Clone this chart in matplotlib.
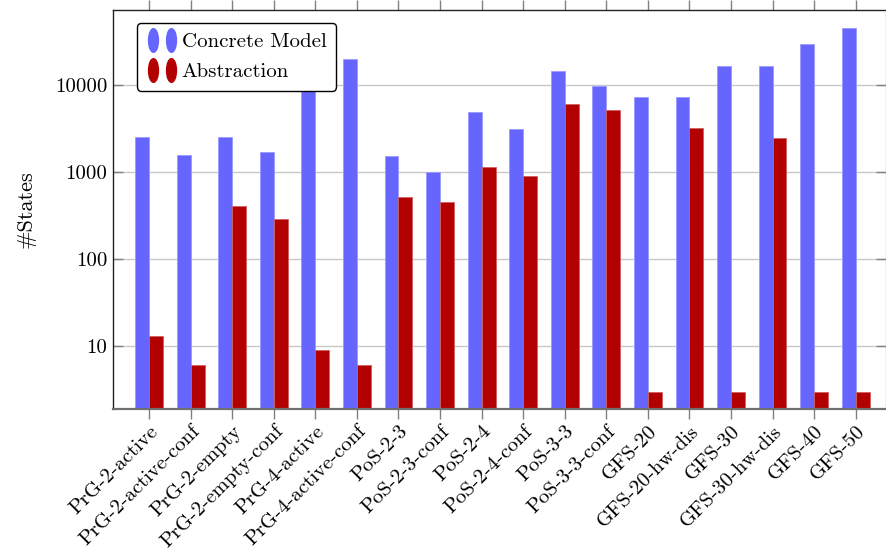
import numpy as np
import matplotlib
matplotlib.use("Agg")
import matplotlib.pyplot as plt
from matplotlib.path import Path
from matplotlib.transforms import Affine2D
from matplotlib.lines import Line2D

plt.rcParams['font.family'] = ['cmr10', 'DejaVu Serif']
plt.rcParams['axes.formatter.use_mathtext'] = True

models = ["PrG-2-active", "PrG-2-active-conf", "PrG-2-empty", "PrG-2-empty-conf",
          "PrG-4-active", "PrG-4-active-conf", "PoS-2-3", "PoS-2-3-conf",
          "PoS-2-4", "PoS-2-4-conf", "PoS-3-3", "PoS-3-3-conf",
          "GFS-20", "GFS-20-hw-dis", "GFS-30", "GFS-30-hw-dis", "GFS-40", "GFS-50"]
concrete = [2520, 1550, 2520, 1690, 9000, 19800, 1510, 1000,
            4850, 3090, 14500, 9600, 7280, 7280, 16300, 16300, 29000, 45000]
abstraction = [13, 6, 400, 290, 9, 6, 510, 450,
               1130, 905, 6000, 5150, 3, 3200, 3, 2440, 3, 3]
yticks = [10, 100, 1000, 10000]

blue = "#6666ff"
red = "#b30000"

fig = plt.figure(figsize=(8.86, 5.54), dpi=100)
ax = fig.add_axes([0.1275, 0.2617, 0.873, 0.7203])

x = np.arange(len(models))
w = 0.335
ax.bar(x - w / 2, concrete, w, color=blue, edgecolor="#9a9aff", linewidth=0.6, zorder=2)
ax.bar(x + w / 2, abstraction, w, color=red, edgecolor="#d06060", linewidth=0.6, zorder=2)

ax.set_yscale("log")
ax.set_ylim(1.89, 72000)
ax.set_xlim(-0.87, 17.74)
ax.yaxis.set_major_locator(matplotlib.ticker.FixedLocator(yticks))
ax.yaxis.set_minor_locator(matplotlib.ticker.NullLocator())
ax.set_yticklabels([str(v) for v in yticks], fontsize=15)
ax.grid(axis="y", color="#c8c8c8", linewidth=1.0, zorder=0)
ax.set_axisbelow(True)

ax.set_xticks(x)
ax.set_xticklabels(models, rotation=45, ha="right", rotation_mode="anchor", fontsize=15)
ax.tick_params(axis="x", direction="out", length=7.5, color="#808080", width=1.0,
               top=True, pad=2)
ax.tick_params(axis="y", direction="in", length=7, color="#808080", width=1.0,
               right=True, pad=4)

for s in ["top", "left"]:
    ax.spines[s].set_color("#222222")
    ax.spines[s].set_linewidth(1.0)
ax.spines["bottom"].set_color("#707070")
ax.spines["bottom"].set_linewidth(1.6)
ax.spines["right"].set_color("#222222")

ax.set_ylabel("#States", fontsize=16, labelpad=14)

# legend: two small upright ellipses per entry
ell = Path.unit_circle().transformed(Affine2D().scale(0.42, 1.0))
handles = [Line2D([], [], ls="none", marker=ell, markersize=17, color=blue),
           Line2D([], [], ls="none", marker=ell, markersize=17, color=red)]
leg = ax.legend(handles, ["Concrete Model", "Abstraction"], loc="upper left",
                bbox_to_anchor=(0.031, 0.967), borderaxespad=0, numpoints=2,
                fontsize=15, frameon=True, fancybox=True, edgecolor="black",
                framealpha=1, handlelength=1.5, handletextpad=0.2,
                borderpad=0.45, labelspacing=0.55)
leg.get_frame().set_linewidth(1.0)
leg.set_zorder(5)

fig.savefig("out.png", dpi=100)
